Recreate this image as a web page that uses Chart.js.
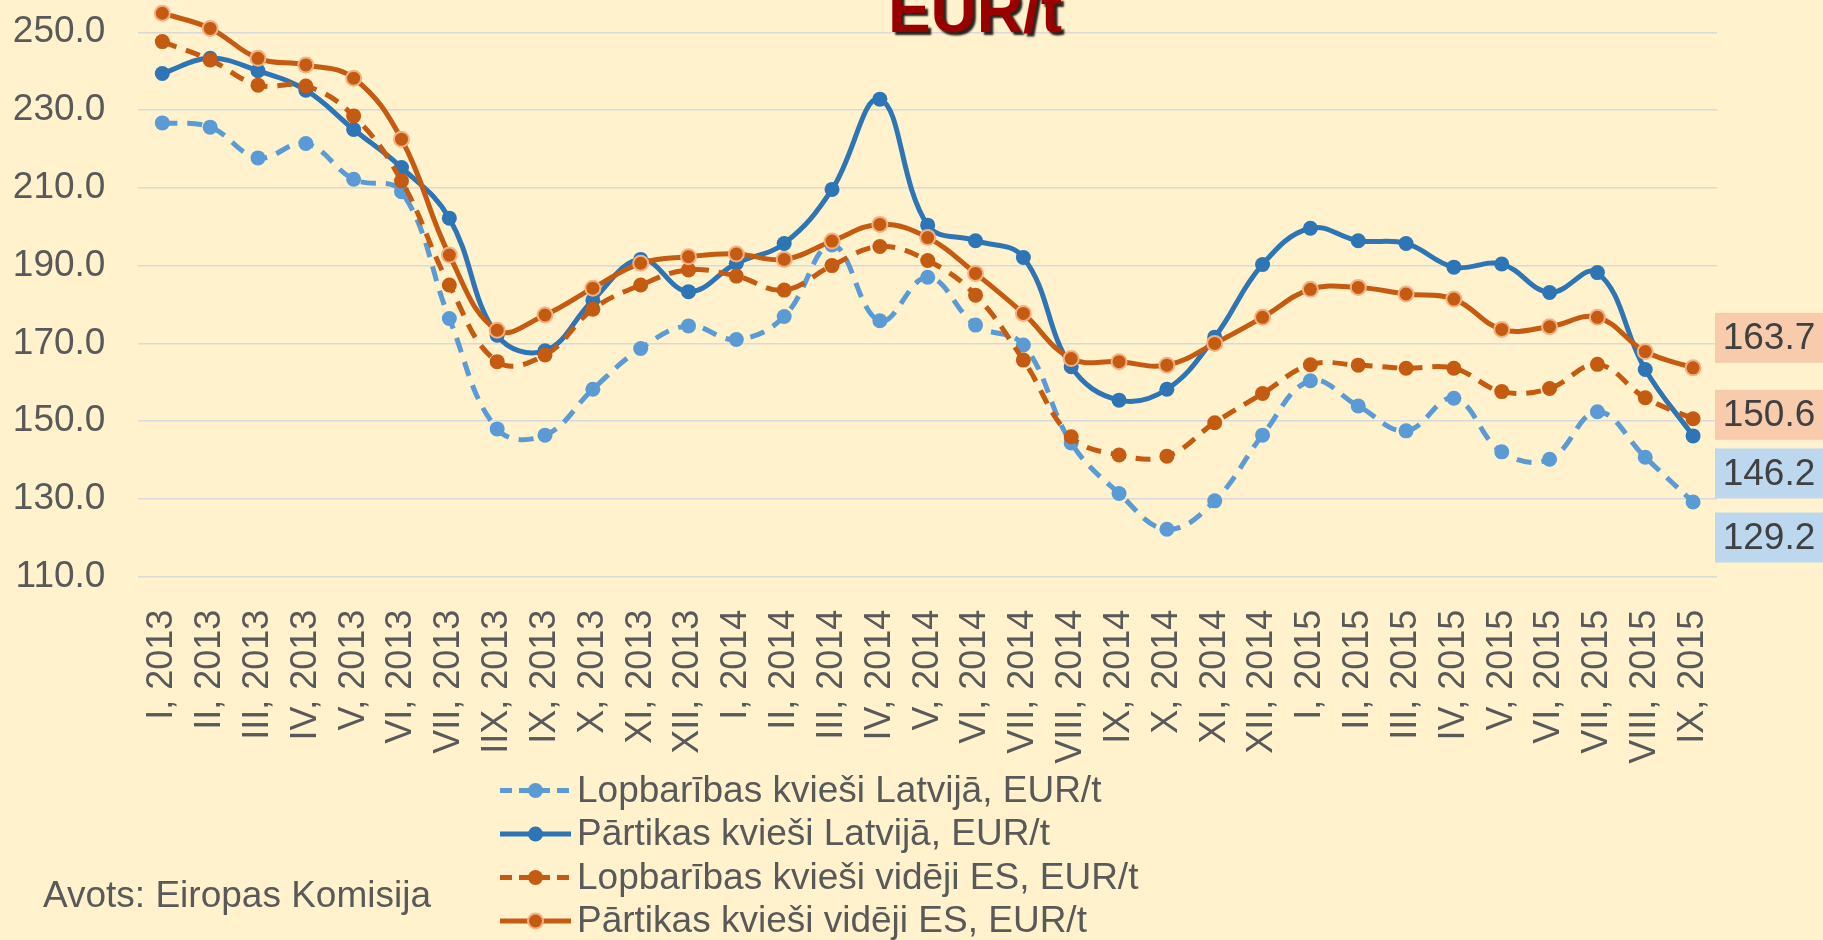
<!DOCTYPE html>
<html>
<head>
<meta charset="utf-8">
<script src="https://cdn.jsdelivr.net/npm/chart.js@4.4.1/dist/chart.umd.min.js"></script>
<style>
html, body { margin: 0; padding: 0; background: #FFF2CC; }
#wrap { width: 1823px; height: 940px; position: relative; }
</style>
</head>
<body>
<div id="wrap"><canvas id="myChart"></canvas></div>
<script>
// months, I 2013 .. IX 2015 (labels as in the source, incl. "IIX")
const months = [
    'I, 2013', 'II, 2013', 'III, 2013', 'IV, 2013', 'V, 2013', 'VI, 2013', 'VII, 2013', 'IIX, 2013', 'IX, 2013', 'X, 2013', 'XI, 2013', 'XII, 2013',
    'I, 2014', 'II, 2014', 'III, 2014', 'IV, 2014', 'V, 2014', 'VI, 2014', 'VII, 2014', 'VIII, 2014', 'IX, 2014', 'X, 2014', 'XI, 2014', 'XII, 2014',
    'I, 2015', 'II, 2015', 'III, 2015', 'IV, 2015', 'V, 2015', 'VI, 2015', 'VII, 2015', 'VIII, 2015', 'IX, 2015'
];

const lopbLatvija = [226.7, 225.6, 217.7, 221.4, 212.2, 209.0, 176.4, 148.0, 146.4, 158.2, 168.7, 174.5,
    171.0, 176.9, 195.3, 175.8, 187.0, 174.7, 169.6, 144.4, 131.4, 122.2, 129.5, 146.4,
    160.4, 153.9, 147.5, 155.9, 142.1, 140.2, 152.4, 140.7, 129.2];

const partLatvija = [239.4, 243.3, 240.1, 235.1, 225.0, 215.2, 202.2, 172.1, 168.1, 181.1, 191.6, 183.3,
    190.6, 195.7, 209.6, 232.8, 200.4, 196.4, 192.1, 164.0, 155.4, 158.2, 171.6, 190.3,
    199.6, 196.4, 195.7, 189.6, 190.4, 183.1, 188.2, 163.3, 146.2];

const lopbES = [247.6, 242.9, 236.4, 236.2, 228.5, 211.8, 185.0, 165.3, 167.0, 178.8, 185.0, 188.9,
    187.3, 183.7, 190.0, 194.9, 191.3, 182.4, 165.7, 146.0, 141.3, 141.0, 149.6, 157.1,
    164.5, 164.4, 163.6, 163.6, 157.6, 158.4, 164.6, 156.0, 150.6];

const partES = [254.9, 251.0, 243.3, 241.6, 238.2, 222.5, 192.7, 173.4, 177.3, 184.2, 190.6, 192.3,
    193.0, 191.6, 196.3, 200.6, 197.2, 188.0, 177.7, 166.1, 165.3, 164.4, 170.0, 176.7,
    183.9, 184.4, 182.7, 181.4, 173.6, 174.3, 176.7, 167.9, 163.7];

const yTicks = [110, 130, 150, 170, 190, 210, 230, 250];

const FONT = '"Liberation Sans", Arial, sans-serif';
const TEXT = '#595959';

// title is cut off at the top in the source picture, only "EUR/t" shows
const titlePlugin = {
    id: 'cutTitle',
    afterDraw(chart) {
        const ctx = chart.ctx;
        ctx.save();
        ctx.font = 'bold 64px ' + FONT;
        ctx.textAlign = 'center';
        ctx.textBaseline = 'alphabetic';
        ctx.shadowColor = 'rgba(0,0,0,0.85)';
        ctx.shadowOffsetX = 3;
        ctx.shadowOffsetY = 3;
        ctx.shadowBlur = 2;
        ctx.fillStyle = '#990000';
        ctx.fillText('EUR/t', 975, 32);
        ctx.restore();
    }
};

// last-value boxes on the right
const endLabels = {
    id: 'endLabels',
    afterDatasetsDraw(chart, args, opts) {
        const ctx = chart.ctx;
        const y = chart.scales.y;
        const left = chart.chartArea.right - 2;
        ctx.save();
        ctx.font = '37px ' + FONT;
        ctx.textAlign = 'center';
        ctx.textBaseline = 'middle';
        opts.boxes.forEach(b => {
            const data = chart.data.datasets[b.ds].data;
            const v = data[data.length - 1];
            const cy = y.getPixelForValue(v) + b.dy;
            ctx.fillStyle = b.color;
            ctx.fillRect(left, cy - 25, chart.width - left, 50);
            ctx.fillStyle = '#404040';
            ctx.fillText(v.toFixed(1), left + 54, cy + 1);
        });
        ctx.restore();
    }
};

// one-column legend + source note under the axis
const stackedLegend = {
    id: 'stackedLegend',
    afterDraw(chart) {
        const ctx = chart.ctx;
        const x0 = 500, x1 = 571, top = 790.5, step = 43.5;
        ctx.save();
        chart.data.datasets.forEach((ds, i) => {
            const cy = top + i * step;
            ctx.strokeStyle = ds.borderColor;
            ctx.lineWidth = ds.borderWidth;
            ctx.setLineDash(ds.borderDash ? [12, 7] : []);
            ctx.beginPath();
            ctx.moveTo(x0, cy);
            ctx.lineTo(x1, cy);
            ctx.stroke();
            ctx.setLineDash([]);
            ctx.beginPath();
            ctx.arc((x0 + x1) / 2, cy, ds.pointRadius, 0, Math.PI * 2);
            ctx.fillStyle = ds.pointBackgroundColor;
            ctx.fill();
            if (ds.pointBorderWidth) {
                ctx.lineWidth = ds.pointBorderWidth;
                ctx.strokeStyle = ds.pointBorderColor;
                ctx.stroke();
            }
            ctx.fillStyle = TEXT;
            ctx.font = '37px ' + FONT;
            ctx.textAlign = 'left';
            ctx.textBaseline = 'middle';
            ctx.fillText(ds.label, 577, cy + 1);
        });
        ctx.fillText('Avots: Eiropas Komisija', 43, 897);
        ctx.restore();
    }
};

function plotGraph() {
    const ctx = document.getElementById('myChart').getContext('2d');
    new Chart(ctx, {
        type: 'line',
        data: {
            labels: months,
            datasets: [{
                label: 'Lopbarības kvieši Latvijā, EUR/t',
                data: lopbLatvija,
                borderColor: '#5B9BD5',
                borderWidth: 5,
                borderDash: [15, 10],
                pointBackgroundColor: '#5B9BD5',
                pointBorderColor: '#5B9BD5',
                pointBorderWidth: 0,
                pointRadius: 7.5,
                tension: 0.4,
                clip: false,
                order: 4
            }, {
                label: 'Pārtikas kvieši Latvijā, EUR/t',
                data: partLatvija,
                borderColor: '#2E75B6',
                borderWidth: 5,
                pointBackgroundColor: '#2E75B6',
                pointBorderColor: '#2E75B6',
                pointBorderWidth: 0,
                pointRadius: 7.5,
                tension: 0.4,
                clip: false,
                order: 3
            }, {
                label: 'Lopbarības kvieši vidēji ES, EUR/t',
                data: lopbES,
                borderColor: '#C55A11',
                borderWidth: 5,
                borderDash: [15, 10],
                pointBackgroundColor: '#C55A11',
                pointBorderColor: '#C55A11',
                pointBorderWidth: 0,
                pointRadius: 7.5,
                tension: 0.4,
                clip: false,
                order: 2
            }, {
                label: 'Pārtikas kvieši vidēji ES, EUR/t',
                data: partES,
                borderColor: '#C55A11',
                borderWidth: 5,
                pointBackgroundColor: '#C55A11',
                pointBorderColor: '#F4B183',
                pointBorderWidth: 2,
                pointRadius: 7.5,
                tension: 0.4,
                clip: false,
                order: 1
            }]
        },
        options: {
            responsive: true,
            maintainAspectRatio: false,
            animation: false,
            layout: { autoPadding: false, padding: { top: 0, left: 12, right: 106, bottom: 0 } },
            scales: {
                x: {
                    offset: true,
                    grid: { display: false },
                    border: { display: false },
                    ticks: {
                        color: TEXT,
                        font: { family: FONT, size: 36 },
                        minRotation: 90,
                        maxRotation: 90,
                        autoSkip: false,
                        padding: 25
                    },
                    afterFit: axis => {
                        axis.height = 363.3;
                        axis.paddingLeft = 0;
                        axis.paddingRight = 0;
                    }
                },
                y: {
                    min: 110,
                    max: 258.3,
                    grid: { color: '#D9D9D9', lineWidth: 1.5, drawTicks: false },
                    border: { display: false },
                    ticks: {
                        color: TEXT,
                        font: { family: FONT, size: 37 },
                        padding: 33,
                        callback: v => v.toFixed(1)
                    },
                    afterBuildTicks: axis => { axis.ticks = yTicks.map(v => ({ value: v })); },
                    afterFit: axis => {
                        axis.width = 126.4;
                        axis.paddingTop = 0;
                        axis.paddingBottom = 0;
                    }
                }
            },
            plugins: {
                legend: { display: false },
                tooltip: { enabled: false },
                endLabels: {
                    boxes: [
                        { ds: 3, dy: -30, color: '#F8CBAD' },
                        { ds: 2, dy: -4, color: '#F8CBAD' },
                        { ds: 1, dy: 37.5, color: '#BDD7EE' },
                        { ds: 0, dy: 35.5, color: '#BDD7EE' }
                    ]
                }
            }
        },
        plugins: [titlePlugin, endLabels, stackedLegend]
    });
}

plotGraph();
</script>
</body>
</html>
